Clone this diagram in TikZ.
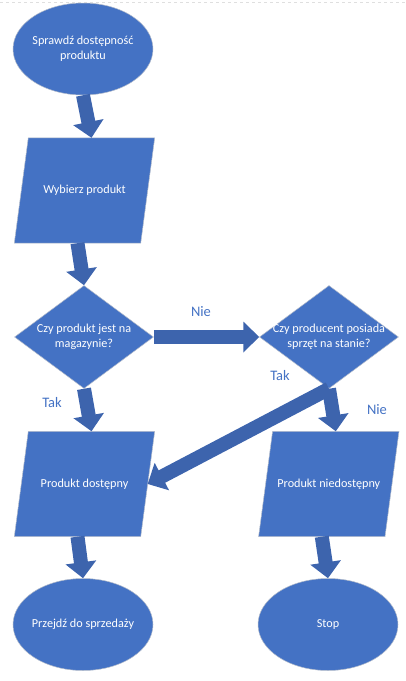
\documentclass[tikz,border=0pt]{standalone}
\usepackage{fontspec}
\setmainfont{Carlito}
\usepackage{xcolor}
\usepackage{tikz}
\usetikzlibrary{shapes.geometric,arrows.meta,backgrounds}

\definecolor{shapeblue}{HTML}{4472C4}
\definecolor{arrowblue}{HTML}{3D64AD}
\definecolor{edgegray}{HTML}{B4BCCB}

% text of a shape that does not change the size of the shape
\newcommand{\shapetext}[1]{\smash{\makebox[0pt]{\raisebox{-3pt}{%
  \begin{tabular}{@{}c@{}}#1\end{tabular}}}}}

\begin{document}
\begin{tikzpicture}[x=1pt,y=-1pt,
    shapebase/.style={fill=shapeblue,draw=edgegray,line width=0.5pt,
      inner sep=0pt,text=white,font=\fontsize{12.2}{15}\selectfont},
    terminal/.style={shapebase,ellipse,minimum width=140pt,minimum height=92pt},
    inout/.style={inner sep=0pt,text=white,font=\fontsize{12.2}{15}\selectfont,
      minimum width=126pt,minimum height=105pt},
    slanted/.style={fill=shapeblue,draw=edgegray,line width=0.5pt},
    decision/.style={shapebase,diamond,minimum width=139pt,minimum height=103pt},
    branch/.style={text=shapeblue,font=\fontsize{14.5}{17}\selectfont},
    blockarrow/.style={draw=arrowblue,line width=14pt,
      -{Triangle[width=30pt,length=16pt]}}]
  % ------- parameters -------
  \def\S{7pt}   % half the slant of a parallelogram

  % ------- page -------
  \useasboundingbox (0,0) rectangle (406,681);
  \draw[dashed,gray!25,line width=0.6pt] (0,2) -- (406,2);

  % ------- left column -------
  \node[terminal] (check) at (83,49) {\shapetext{Sprawdź dostępność\\produktu}};
  \node[inout] (choose) at (84.5,190.5) {Wybierz produkt};
  \node[decision] (stock) at (84,337) {\shapetext{Czy produkt jest na\\magazynie?}};
  \node[inout] (avail) at (84.5,484) {Produkt dostępny};
  \node[terminal] (sell) at (83,624.5) {\shapetext{Przejdź do sprzedaży}};

  % ------- right column -------
  \node[decision] (maker) at (329,337) {\shapetext{Czy producent posiada\\sprzęt na stanie?}};
  \node[inout] (unavail) at (328.8,484) {Produkt niedostępny};
  \node[terminal] (stop) at (328,624.5) {\shapetext{Stop}};

  % ------- parallelograms behind the text -------
  \begin{scope}[on background layer]
    \foreach \n in {choose,avail,unavail}
      \path[slanted] ([xshift=\S]\n.north west) -- ([xshift=\S]\n.north east)
        -- ([xshift=-\S]\n.south east) -- ([xshift=-\S]\n.south west) -- cycle;
  \end{scope}

  % ------- branch labels -------
  \node[branch] (no1) at (201,312) {Nie};
  \node[branch] (yes1) at (52,403) {Tak};
  \node[branch] (yes2) at (280,376) {Tak};
  \node[branch] (no2) at (377,410) {Nie};

  % ------- arrows -------
  \draw[blockarrow] (check.south) -- ([xshift=\S]choose.north);
  \draw[blockarrow] ([xshift=-\S]choose.south) -- (stock.north);
  \draw[blockarrow] (stock.east) -- (maker.west);
  \draw[blockarrow] (stock.south) -- ([xshift=\S]avail.north);
  \draw[blockarrow] (maker.south) -- (avail.east);
  \draw[blockarrow] (maker.south) -- ([xshift=\S]unavail.north);
  \draw[blockarrow] ([xshift=-\S]avail.south) -- (sell.north);
  \draw[blockarrow] ([xshift=-\S]unavail.south) -- (stop.north);
\end{tikzpicture}
\end{document}
